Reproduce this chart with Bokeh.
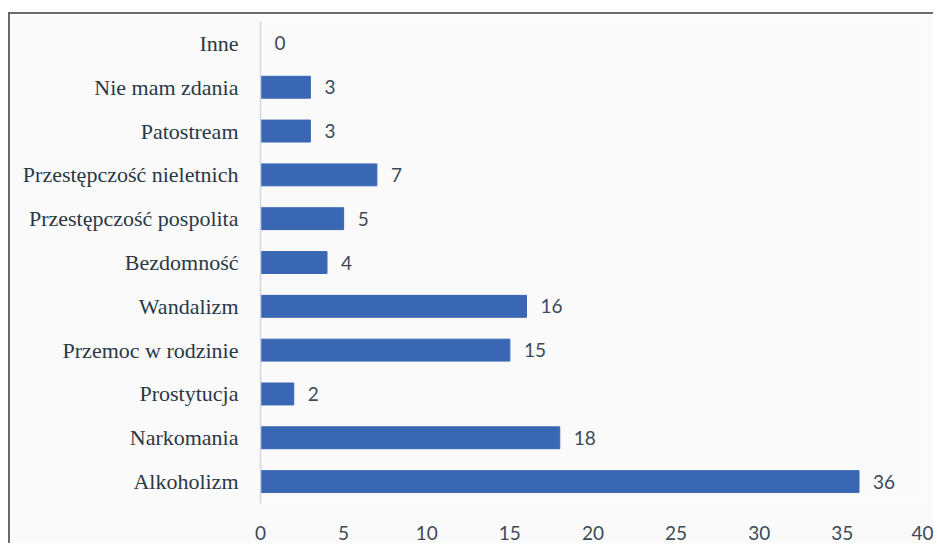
from bokeh.plotting import figure
from bokeh.models import ColumnDataSource, FactorRange
from bokeh.core.properties import value
from bokeh.embed import file_html
from bokeh.resources import INLINE

categories = ["Alkoholizm", "Narkomania", "Prostytucja", "Przemoc w rodzinie",
              "Wandalizm", "Bezdomność", "Przestępczość pospolita",
              "Przestępczość nieletnich", "Patostream", "Nie mam zdania", "Inne"]
counts = [36, 18, 2, 15, 16, 4, 5, 7, 3, 3, 0]
x_ticks = [0, 5, 10, 15, 20, 25, 30, 35, 40]

source = ColumnDataSource(data=dict(cat=categories, val=counts,
                                    lab=[str(v) for v in counts]))

p = figure(width=925, height=531, output_backend="svg", toolbar_location=None,
           y_range=FactorRange(factors=categories, range_padding=0),
           x_range=(0, 40),
           min_border_left=250, min_border_right=10, min_border_top=7,
           min_border_bottom=42)
p.margin = (12, 0, 0, 8)
p.styles = {"border-top": "2px solid #6a6a6a", "border-left": "2px solid #6a6a6a"}

p.hbar(y="cat", right="val", left=0, height=0.5, source=source,
       fill_color="#3a67b4", line_color="#3a67b4")
p.text(x="val", y="cat", text="lab", source=source, x_offset=14,
       text_baseline="middle", text_align="left", text_font=value("Lato"),
       text_font_size="19px", text_color="#3c4a58")

p.background_fill_color = "#fafafa"
p.border_fill_color = "#fafafa"
p.outline_line_color = None
p.grid.grid_line_color = None

p.xaxis.ticker = x_ticks
p.xaxis.axis_line_color = None
p.xaxis.major_tick_line_color = None
p.xaxis.minor_tick_line_color = None
p.xaxis.major_label_text_font = "Lato"
p.xaxis.major_label_text_font_size = "19px"
p.xaxis.major_label_text_color = "#3c4a58"
p.xaxis.major_label_standoff = 16

p.yaxis.axis_line_color = "#cdd7e4"
p.yaxis.axis_line_width = 1.5
p.yaxis.major_tick_line_color = None
p.yaxis.minor_tick_line_color = None
p.yaxis.major_label_text_font = "Liberation Serif"
p.yaxis.major_label_text_font_size = "22px"
p.yaxis.major_label_text_color = "#2a3846"
p.yaxis.major_label_standoff = 16

open("out.html", "w").write(file_html(p, INLINE))
